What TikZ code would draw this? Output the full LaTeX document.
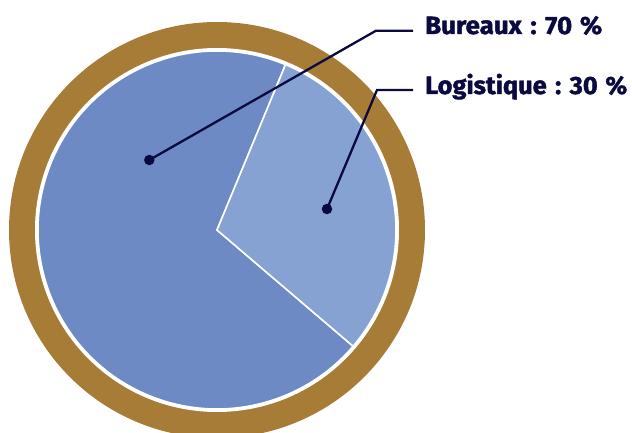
\documentclass[tikz,border=0pt]{standalone}
\usepackage{fontspec}
\usepackage{graphicx}
\setmainfont{Fira Sans}[BoldFeatures={FakeBold=1.6}]
\definecolor{ringbrown}{HTML}{A67C37}
\definecolor{darkslice}{HTML}{6D8AC4}
\definecolor{lightslice}{HTML}{86A2D3}
\definecolor{navy}{HTML}{0A0A40}
\newcommand{\colsp}{\hspace{0.33em}}
\tikzset{
  slicestyle/.style={draw=white, line width=1.6pt, line join=miter},
  leader/.style={draw=navy, line width=2.3pt},
  dotnode/.style={circle, fill=navy, inner sep=0pt, minimum size=10.5pt},
  labeltext/.style={inner sep=0pt, anchor=base west, text=navy, font=\bfseries\fontsize{25}{30}\selectfont}
}
\begin{document}
\begin{tikzpicture}[x=1pt,y=1pt]
\useasboundingbox (0,0) rectangle (632,432);
% ring
\fill[ringbrown] (217,202) circle (208);
\fill[white] (217,202) circle (182);
% slices
\coordinate (c) at (217,202);
\filldraw[slicestyle, fill=darkslice] (c) -- ++(67.5:179) arc (67.5:319.5:179) -- cycle;
\filldraw[slicestyle, fill=lightslice] (c) -- ++(-40.5:179) arc (-40.5:67.5:179) -- cycle;
% labels
\node[labeltext] (t1) at (425,398) {\resizebox{177pt}{\height}{Bureaux\colsp:\colsp70\hspace{0.3em}\%}};
\node[labeltext] (t2) at (425,338) {\resizebox{202pt}{\height}{Logistique\colsp:\colsp30\hspace{0.3em}\%}};
% leaders
\node[dotnode] (d1) at (149.3,272) {};
\node[dotnode] (d2) at (327,223) {};
\coordinate (b1) at (376,401.3);
\coordinate (e1) at (413,401.3);
\coordinate (b2) at (377,342);
\coordinate (e2) at (413,342);
\draw[leader] (d1.center) -- (b1) -- (e1);
\draw[leader] (d2.center) -- (b2) -- (e2);
\end{tikzpicture}
\end{document}
